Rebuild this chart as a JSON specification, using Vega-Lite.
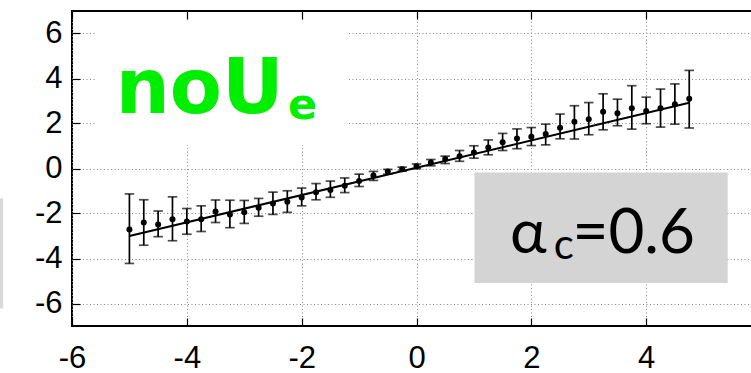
{
  "$schema": "https://vega.github.io/schema/vega-lite/v6.json",
  "width": 689,
  "height": 315,
  "autosize": {"type": "none"},
  "padding": {"left": 72, "top": 11, "right": -10, "bottom": 47},
  "background": "white",
  "config": {
    "view": {"stroke": "black", "strokeWidth": 2},
    "font": "Liberation Sans"
  },
  "datasets": {
    "pts": [
      {"x": -5, "y": -2.71, "lo": -4.22, "hi": -1.13},
      {"x": -4.75, "y": -2.4, "lo": -3.41, "hi": -1.39},
      {"x": -4.5, "y": -2.49, "lo": -3.03, "hi": -1.89},
      {"x": -4.25, "y": -2.25, "lo": -3.21, "hi": -1.26},
      {"x": -4, "y": -2.35, "lo": -2.92, "hi": -1.78},
      {"x": -3.75, "y": -2.25, "lo": -2.8, "hi": -1.66},
      {"x": -3.5, "y": -1.91, "lo": -2.4, "hi": -1.4},
      {"x": -3.25, "y": -2.04, "lo": -2.63, "hi": -1.41},
      {"x": -3, "y": -1.94, "lo": -2.44, "hi": -1.42},
      {"x": -2.75, "y": -1.74, "lo": -2.12, "hi": -1.33},
      {"x": -2.5, "y": -1.56, "lo": -2.04, "hi": -1.05},
      {"x": -2.25, "y": -1.48, "lo": -1.95, "hi": -0.99},
      {"x": -2, "y": -1.29, "lo": -1.66, "hi": -0.87},
      {"x": -1.75, "y": -1.05, "lo": -1.39, "hi": -0.67},
      {"x": -1.5, "y": -0.95, "lo": -1.28, "hi": -0.56},
      {"x": -1.25, "y": -0.77, "lo": -1.07, "hi": -0.42},
      {"x": -1, "y": -0.55, "lo": -0.8, "hi": -0.25},
      {"x": -0.75, "y": -0.31, "lo": -0.53, "hi": -0.13},
      {"x": -0.5, "y": -0.13, "lo": -0.25, "hi": -0.04},
      {"x": -0.25, "y": -0.03, "lo": -0.12, "hi": 0.06},
      {"x": 0, "y": 0.1, "lo": -0.01, "hi": 0.2},
      {"x": 0.25, "y": 0.27, "lo": 0.12, "hi": 0.4},
      {"x": 0.5, "y": 0.42, "lo": 0.22, "hi": 0.55},
      {"x": 0.75, "y": 0.54, "lo": 0.32, "hi": 0.8},
      {"x": 1, "y": 0.71, "lo": 0.46, "hi": 1.01},
      {"x": 1.25, "y": 0.93, "lo": 0.61, "hi": 1.27},
      {"x": 1.5, "y": 1.17, "lo": 0.8, "hi": 1.56},
      {"x": 1.75, "y": 1.33, "lo": 0.88, "hi": 1.76},
      {"x": 2, "y": 1.41, "lo": 1.02, "hi": 1.82},
      {"x": 2.25, "y": 1.53, "lo": 1.05, "hi": 1.97},
      {"x": 2.5, "y": 1.81, "lo": 1.32, "hi": 2.42},
      {"x": 2.75, "y": 2.08, "lo": 1.31, "hi": 2.79},
      {"x": 3, "y": 2.19, "lo": 1.5, "hi": 2.93},
      {"x": 3.25, "y": 2.52, "lo": 1.72, "hi": 3.32},
      {"x": 3.5, "y": 2.46, "lo": 1.9, "hi": 3.08},
      {"x": 3.75, "y": 2.68, "lo": 1.75, "hi": 3.68},
      {"x": 4, "y": 2.56, "lo": 1.99, "hi": 3.17},
      {"x": 4.25, "y": 2.68, "lo": 1.84, "hi": 3.53},
      {"x": 4.5, "y": 2.86, "lo": 1.97, "hi": 3.76},
      {"x": 4.75, "y": 3.1, "lo": 1.8, "hi": 4.36}
    ],
    "fit": [
      {"x": -5, "y": -3.0},
      {"x": 4.75, "y": 2.92}
    ],
    "one": [{}]
  },
  "resolve": {"axis": {"x": "independent", "y": "independent"}},
  "layer": [
    {
      "data": {"name": "pts"},
      "mark": {"type": "point", "opacity": 0},
      "encoding": {
        "x": {"field": "x", "type": "quantitative", "scale": {"domain": [-6, 6], "nice": false, "zero": false},
          "axis": {"orient": "bottom", "title": null, "values": [-6, -4, -2, 0, 2, 4, 6], "grid": true, "gridColor": "#8a8a8a", "gridDash": [1, 2.5], "gridWidth": 1,
            "domain": false, "ticks": true, "tickSize": -8, "tickColor": "black", "tickWidth": 1.2, "labelPadding": 25, "labelFontSize": 31, "labelFont": "Liberation Sans", "labelColor": "black", "labelFlush": false, "labelOverlap": false, "labelExpr": "'' + datum.value"}},
        "y": {"field": "y", "type": "quantitative", "scale": {"domain": [-7, 7], "nice": false, "zero": false},
          "axis": {"orient": "left", "title": null, "values": [-6, -4, -2, 0, 2, 4, 6], "grid": true, "gridColor": "#8a8a8a", "gridDash": [1, 2.5], "gridWidth": 1,
            "domain": false, "ticks": true, "tickSize": -8, "tickColor": "black", "tickWidth": 1.2, "labelPadding": 18, "labelFontSize": 31, "labelFont": "Liberation Sans", "labelColor": "black", "labelFlush": false, "labelOverlap": false, "labelExpr": "'' + datum.value"}}
      }
    },
    {
      "data": {"name": "one"},
      "mark": {"type": "rect", "color": "white"},
      "encoding": {
        "x": {"datum": -5.6, "type": "quantitative", "axis": {"orient": "top", "title": null, "values": [-6, -4, -2, 0, 2, 4, 6], "grid": false, "labels": false, "domain": false, "ticks": true, "tickSize": -8, "tickColor": "black", "tickWidth": 1.2}},
        "x2": {"datum": -1.19},
        "y": {"datum": 6.52, "type": "quantitative", "axis": null},
        "y2": {"datum": 1.05}
      }
    },
    {
      "data": {"name": "one"},
      "mark": {"type": "rect", "color": "#d4d4d4"},
      "encoding": {
        "x": {"datum": 1.01, "type": "quantitative", "axis": null},
        "x2": {"datum": 5.42},
        "y": {"datum": -0.18, "type": "quantitative", "axis": null},
        "y2": {"datum": -5.09}
      }
    },
    {
      "data": {"name": "one"},
      "mark": {"type": "rect", "color": "#d8d8d8", "clip": false},
      "encoding": {
        "x": {"datum": -7.3, "type": "quantitative", "axis": null},
        "x2": {"datum": -7.2},
        "y": {"datum": -1.33, "type": "quantitative", "axis": null},
        "y2": {"datum": -6.22}
      }
    },
    {
      "data": {"name": "pts"},
      "mark": {"type": "rule", "color": "black", "strokeWidth": 1.7},
      "encoding": {
        "x": {"field": "x", "type": "quantitative", "axis": null},
        "y": {"field": "lo", "type": "quantitative", "axis": null},
        "y2": {"field": "hi"}
      }
    },
    {
      "data": {"name": "pts"},
      "mark": {"type": "tick", "orient": "horizontal", "color": "black", "size": 9.5, "thickness": 1.7},
      "encoding": {
        "x": {"field": "x", "type": "quantitative", "axis": null},
        "y": {"field": "lo", "type": "quantitative", "axis": null}
      }
    },
    {
      "data": {"name": "pts"},
      "mark": {"type": "tick", "orient": "horizontal", "color": "black", "size": 9.5, "thickness": 1.7},
      "encoding": {
        "x": {"field": "x", "type": "quantitative", "axis": null},
        "y": {"field": "hi", "type": "quantitative", "axis": null}
      }
    },
    {
      "data": {"name": "fit"},
      "mark": {"type": "line", "color": "black", "strokeWidth": 2},
      "encoding": {
        "x": {"field": "x", "type": "quantitative", "axis": null},
        "y": {"field": "y", "type": "quantitative", "axis": null}
      }
    },
    {
      "data": {"name": "pts"},
      "mark": {"type": "circle", "color": "black", "opacity": 1, "size": 36},
      "encoding": {
        "x": {"field": "x", "type": "quantitative", "axis": null},
        "y": {"field": "y", "type": "quantitative", "axis": null}
      }
    },
    {
      "data": {"name": "one"},
      "mark": {"type": "text", "font": "DejaVu Sans", "fontWeight": "bold", "fontSize": 76, "color": "#00ee00", "align": "left", "baseline": "alphabetic"},
      "encoding": {
        "x": {"datum": -5.24, "type": "quantitative", "axis": null},
        "y": {"datum": 2.46, "type": "quantitative", "axis": null},
        "text": {"value": "noU"}
      }
    },
    {
      "data": {"name": "one"},
      "mark": {"type": "text", "font": "DejaVu Sans", "fontWeight": "bold", "fontSize": 43, "color": "#00ee00", "align": "left", "baseline": "alphabetic"},
      "encoding": {
        "x": {"datum": -2.24, "type": "quantitative", "axis": null},
        "y": {"datum": 2.2, "type": "quantitative", "axis": null},
        "text": {"value": "e"}
      }
    },
    {
      "data": {"name": "one"},
      "mark": {"type": "text", "font": "Lato", "fontSize": 62, "color": "black", "align": "left", "baseline": "alphabetic"},
      "encoding": {
        "x": {"datum": 1.63, "type": "quantitative", "axis": null},
        "y": {"datum": -3.76, "type": "quantitative", "axis": null},
        "text": {"value": "α"}
      }
    },
    {
      "data": {"name": "one"},
      "mark": {"type": "text", "font": "Lato", "fontSize": 42, "color": "black", "align": "left", "baseline": "alphabetic"},
      "encoding": {
        "x": {"datum": 2.39, "type": "quantitative", "axis": null},
        "y": {"datum": -4.03, "type": "quantitative", "axis": null},
        "text": {"value": "c"}
      }
    },
    {
      "data": {"name": "one"},
      "mark": {"type": "text", "font": "Lato", "fontSize": 62, "color": "black", "align": "right", "baseline": "alphabetic"},
      "encoding": {
        "x": {"datum": 4.85, "type": "quantitative", "axis": null},
        "y": {"datum": -3.76, "type": "quantitative", "axis": null},
        "text": {"value": "=0.6"}
      }
    }
  ]
}
